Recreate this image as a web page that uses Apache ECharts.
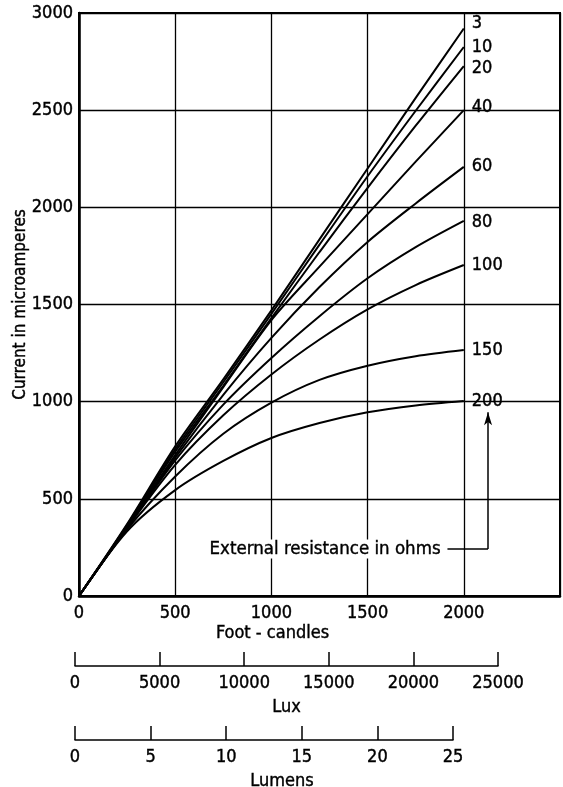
<!DOCTYPE html>
<html>
<head>
<meta charset="utf-8">
<script src="https://cdn.jsdelivr.net/npm/echarts@6/dist/echarts.min.js"></script>
<style>
html,body{margin:0;padding:0;background:#fff;}
#c{width:563px;height:787px;}
</style>
</head>
<body>
<div id="c"></div>
<script>
// ---- data ----
const footCandles = [0, 250, 500, 750, 1000, 1250, 1500, 1750, 2000];
const resistances = ['3', '10', '20', '40', '60', '80', '100', '150', '200'];
const current3   = [0, 370, 770, 1115, 1470, 1835, 2200, 2563, 2920];
const current10  = [0, 365, 755, 1100, 1452, 1808, 2160, 2497, 2825];
const current20  = [0, 362, 742, 1082, 1430, 1770, 2100, 2420, 2727];
const current40  = [0, 358, 725, 1075, 1420, 1695, 1965, 2235, 2500];
const current60  = [0, 355, 712, 1035, 1328, 1590, 1822, 2020, 2208];
const current80  = [0, 352, 698, 985, 1225, 1440, 1635, 1795, 1930];
const current100 = [0, 350, 675, 930, 1140, 1320, 1475, 1600, 1703];
const current150 = [0, 343, 615, 835, 995, 1112, 1185, 1234, 1266];
const current200 = [0, 333, 545, 695, 813, 890, 945, 980, 1003];
const yTicks = [0, 500, 1000, 1500, 2000, 2500, 3000];
const luxTicks = [0, 5000, 10000, 15000, 20000, 25000];
const lumenTicks = [0, 5, 10, 15, 20, 25];
const annotationText = 'External resistance in ohms';

const allCurrents = [current3, current10, current20, current40, current60, current80, current100, current150, current200];
// label vertical nudges (style only)
const labelNudge = [-5, 0, 2, -3, -1, 1, 0, 0, 0];

const FONT = '"DejaVu Sans Condensed", "Liberation Sans Narrow", "Liberation Sans", sans-serif';
const txt = {color: '#000', fontFamily: FONT, fontSize: 18, textBorderColor: '#000', textBorderWidth: 0.4};
const plain = v => String(v);

const series = resistances.map((r, i) => ({
  name: r,
  type: 'line',
  xAxisIndex: 0, yAxisIndex: 0,
  data: footCandles.map((f, j) => [f, allCurrents[i][j]]),
  smooth: 0.3,
  showSymbol: false,
  lineStyle: {color: '#000', width: 2},
  endLabel: {show: true, formatter: '{a}', offset: [0, labelNudge[i]], ...txt},
  silent: true
}));

// arrow annotation (data coordinates)
series.push({
  type: 'line', xAxisIndex: 0, yAxisIndex: 0, data: [], silent: true,
  markLine: {
    silent: true, animation: false,
    label: {show: false},
    lineStyle: {color: '#000', width: 1.5, type: 'solid'},
    data: [
      [{coord: [1915, 242], symbol: 'none'}, {coord: [2126, 242], symbol: 'none'}],
      [{coord: [2126, 242], symbol: 'none'}, {coord: [2126, 945], symbol: 'arrow', symbolSize: [6, 13]}]
    ]
  }
});
// dummy series for extra axes
series.push({type: 'line', xAxisIndex: 1, yAxisIndex: 1, data: [], silent: true});
series.push({type: 'line', xAxisIndex: 2, yAxisIndex: 2, data: [], silent: true});

const option = {
  animation: false,
  backgroundColor: '#fff',
  grid: [
    {left: 79, right: 3, top: 13, bottom: 191, show: true, borderColor: '#000', borderWidth: 2, containLabel: false, outerBoundsMode: 'none'},
    {left: 75, right: 65, top: 665, height: 1, containLabel: false, outerBoundsMode: 'none'},
    {left: 75, right: 110, top: 739, height: 1, containLabel: false, outerBoundsMode: 'none'}
  ],
  xAxis: [
    {
      gridIndex: 0, type: 'value', min: 0, max: 2500, interval: 500,
      name: 'Foot - candles', nameLocation: 'middle', nameGap: 28, nameMoveOverlap: false,
      nameTextStyle: {...txt, fontSize: 18, padding: [0, 94, 0, 0]},
      axisLine: {show: true, lineStyle: {color: '#000', width: 2.5}},
      axisTick: {show: false},
      axisLabel: {...txt, margin: 8, showMaxLabel: false, formatter: plain},
      splitLine: {show: true, lineStyle: {color: '#000', width: 1.3}}
    },
    {
      gridIndex: 1, type: 'value', min: 0, max: 25000, interval: 5000,
      name: 'Lux', nameLocation: 'middle', nameGap: 32, nameMoveOverlap: false,
      nameTextStyle: {...txt, fontSize: 18},
      axisLine: {show: true, lineStyle: {color: '#000', width: 1.5}},
      axisTick: {show: true, inside: true, length: 14, lineStyle: {color: '#000', width: 1.5}},
      axisLabel: {...txt, margin: 8, formatter: plain},
      splitLine: {show: false}
    },
    {
      gridIndex: 2, type: 'value', min: 0, max: 25, interval: 5,
      name: 'Lumens', nameLocation: 'middle', nameGap: 32, nameMoveOverlap: false,
      nameTextStyle: {...txt, fontSize: 18, padding: [0, 0, 0, 36]},
      axisLine: {show: true, lineStyle: {color: '#000', width: 1.5}},
      axisTick: {show: true, inside: true, length: 14, lineStyle: {color: '#000', width: 1.5}},
      axisLabel: {...txt, margin: 8, formatter: plain},
      splitLine: {show: false}
    }
  ],
  yAxis: [
    {
      gridIndex: 0, type: 'value', min: yTicks[0], max: yTicks[yTicks.length - 1], interval: 500,
      name: 'Current in microamperes', nameLocation: 'middle', nameGap: 50, nameMoveOverlap: false,
      nameTextStyle: {...txt, fontSize: 17},
      axisLine: {show: true, lineStyle: {color: '#000', width: 2.5}},
      axisTick: {show: false},
      axisLabel: {...txt, margin: 6, formatter: plain},
      splitLine: {show: true, lineStyle: {color: '#000', width: 1.3}}
    },
    {gridIndex: 1, type: 'value', show: false},
    {gridIndex: 2, type: 'value', show: false}
  ],
  series: series
};

const chart = echarts.init(document.getElementById('c'), null, {renderer: 'canvas'});
chart.setOption(option);
const p = chart.convertToPixel({gridIndex: 0}, [1900, 242]);
chart.setOption({
  graphic: [{
    type: 'text', x: p[0] - 4, y: p[1],
    style: {text: annotationText, fill: '#000', font: '18.5px ' + FONT, textAlign: 'right', textVerticalAlign: 'middle', backgroundColor: '#fff', stroke: '#000', lineWidth: 0.4},
    silent: true
  }]
});
</script>
</body>
</html>
